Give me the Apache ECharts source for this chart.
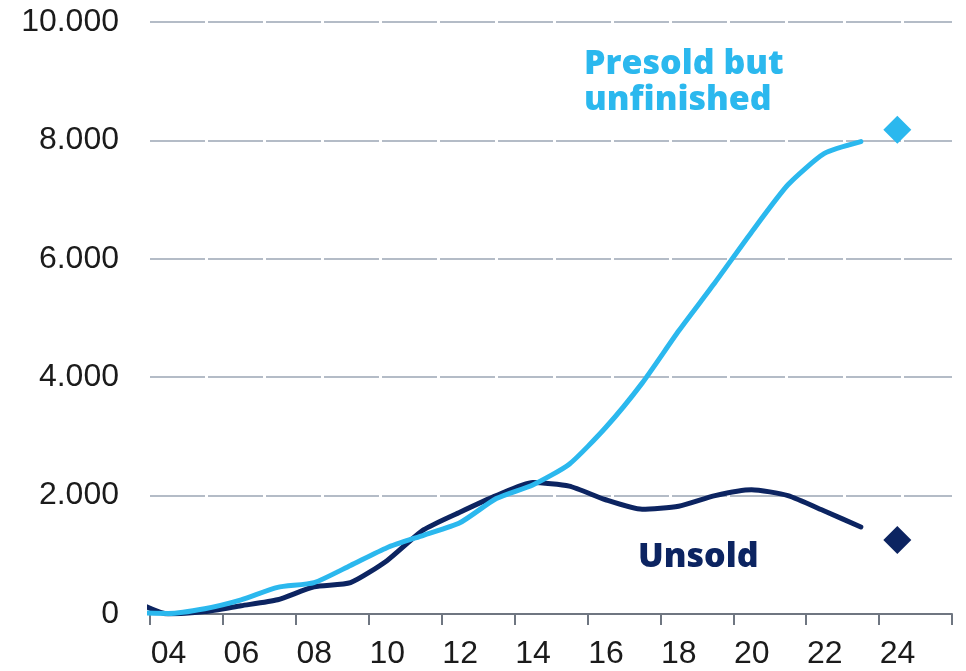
<!DOCTYPE html>
<html>
<head>
<meta charset="utf-8">
<script src="https://cdn.jsdelivr.net/npm/echarts@6/dist/echarts.min.js"></script>
<style>
  html, body { margin: 0; padding: 0; background: #ffffff; }
  #chart { width: 966px; height: 671px; }
</style>
</head>
<body>
<div id="chart"></div>
<script>
// Annual values, plotted at mid-year (year + 0.5)
const years = [2003, 2004, 2005, 2006, 2007, 2008, 2009, 2010, 2011, 2012, 2013,
               2014, 2015, 2016, 2017, 2018, 2019, 2020, 2021, 2022, 2023];
const presoldUnfinished = [20, 10, 90, 240, 450, 530, 820, 1120, 1330, 1540, 1950,
                           2180, 2530, 3150, 3900, 4780, 5600, 6450, 7250, 7780, 7980];
const unsold = [240, 0, 40, 140, 240, 460, 530, 900, 1420, 1720, 2000,
                2220, 2160, 1930, 1770, 1820, 2000, 2100, 2000, 1740, 1470];

// 2024 estimates
const estimateYear = 2024;
const presoldEstimate = 8180;
const unsoldEstimate = 1250;

const yTicks = [0, 2000, 4000, 6000, 8000, 10000];

const LIGHT = '#2bb8ee';
const NAVY = '#0c2461';

const pairs = (vals) => vals.map((v, i) => [years[i] + 0.5, v]);

const chart = echarts.init(document.getElementById('chart'));
chart.setOption({
  animation: false,
  grid: { left: 150, right: 14, top: 22, bottom: 57 },
  xAxis: {
    type: 'value',
    min: 2004,
    max: 2026,
    interval: 2,
    axisLine: { show: true, lineStyle: { color: '#6f7681', width: 2 } },
    axisTick: { show: true, length: 11, lineStyle: { color: '#6f7681', width: 2 } },
    splitLine: { show: false },
    axisLabel: {
      show: true,
      margin: 24,
      color: '#1b1b1b',
      fontFamily: 'Liberation Sans Narrow, Liberation Sans, Arial, sans-serif',
      fontSize: 32,
      padding: [0, 0, 0, 37],
      showMaxLabel: true,
      showMinLabel: true,
      formatter: (v) => (v >= 2025 ? '' : String(v % 100).padStart(2, '0'))
    }
  },
  yAxis: {
    type: 'value',
    min: 0,
    max: 10000,
    interval: 2000,
    axisLine: { show: false },
    axisTick: { show: false },
    splitLine: {
      show: true,
      lineStyle: { color: '#b4bcc7', width: 2, type: [55, 3] }
    },
    axisLabel: {
      margin: 31,
      color: '#1b1b1b',
      fontFamily: 'Liberation Sans, Arial, sans-serif',
      fontSize: 32,
      formatter: (v) => yTicks.includes(v) ? v.toLocaleString('de-DE') : ''
    }
  },
  series: [
    {
      name: 'Unsold',
      type: 'line',
      data: pairs(unsold),
      smooth: 0.2,
      showSymbol: false,
      clip: true,
      lineStyle: { color: NAVY, width: 5, join: 'round', cap: 'round' },
      z: 2
    },
    {
      name: 'Presold but unfinished',
      type: 'line',
      data: pairs(presoldUnfinished),
      smooth: 0.2,
      showSymbol: false,
      clip: true,
      lineStyle: { color: LIGHT, width: 5, join: 'round', cap: 'round' },
      z: 3
    },
    {
      name: 'Estimates',
      type: 'scatter',
      symbol: 'diamond',
      symbolSize: 28,
      itemStyle: { opacity: 1 },
      data: [
        { value: [estimateYear + 0.5, presoldEstimate], itemStyle: { color: LIGHT, opacity: 1 } },
        { value: [estimateYear + 0.5, unsoldEstimate], itemStyle: { color: NAVY, opacity: 1 } }
      ],
      z: 4
    }
  ],
  graphic: [
    {
      type: 'text',
      left: 584,
      top: 46,
      style: {
        text: 'Presold but\nunfinished',
        fill: LIGHT,
        font: '800 34px "Open Sans", Inter, sans-serif',
        lineHeight: 36
      }
    },
    {
      type: 'text',
      left: 638,
      top: 540,
      style: {
        text: 'Unsold',
        fill: NAVY,
        font: '800 34px "Open Sans", Inter, sans-serif'
      }
    }
  ]
});
</script>
</body>
</html>
